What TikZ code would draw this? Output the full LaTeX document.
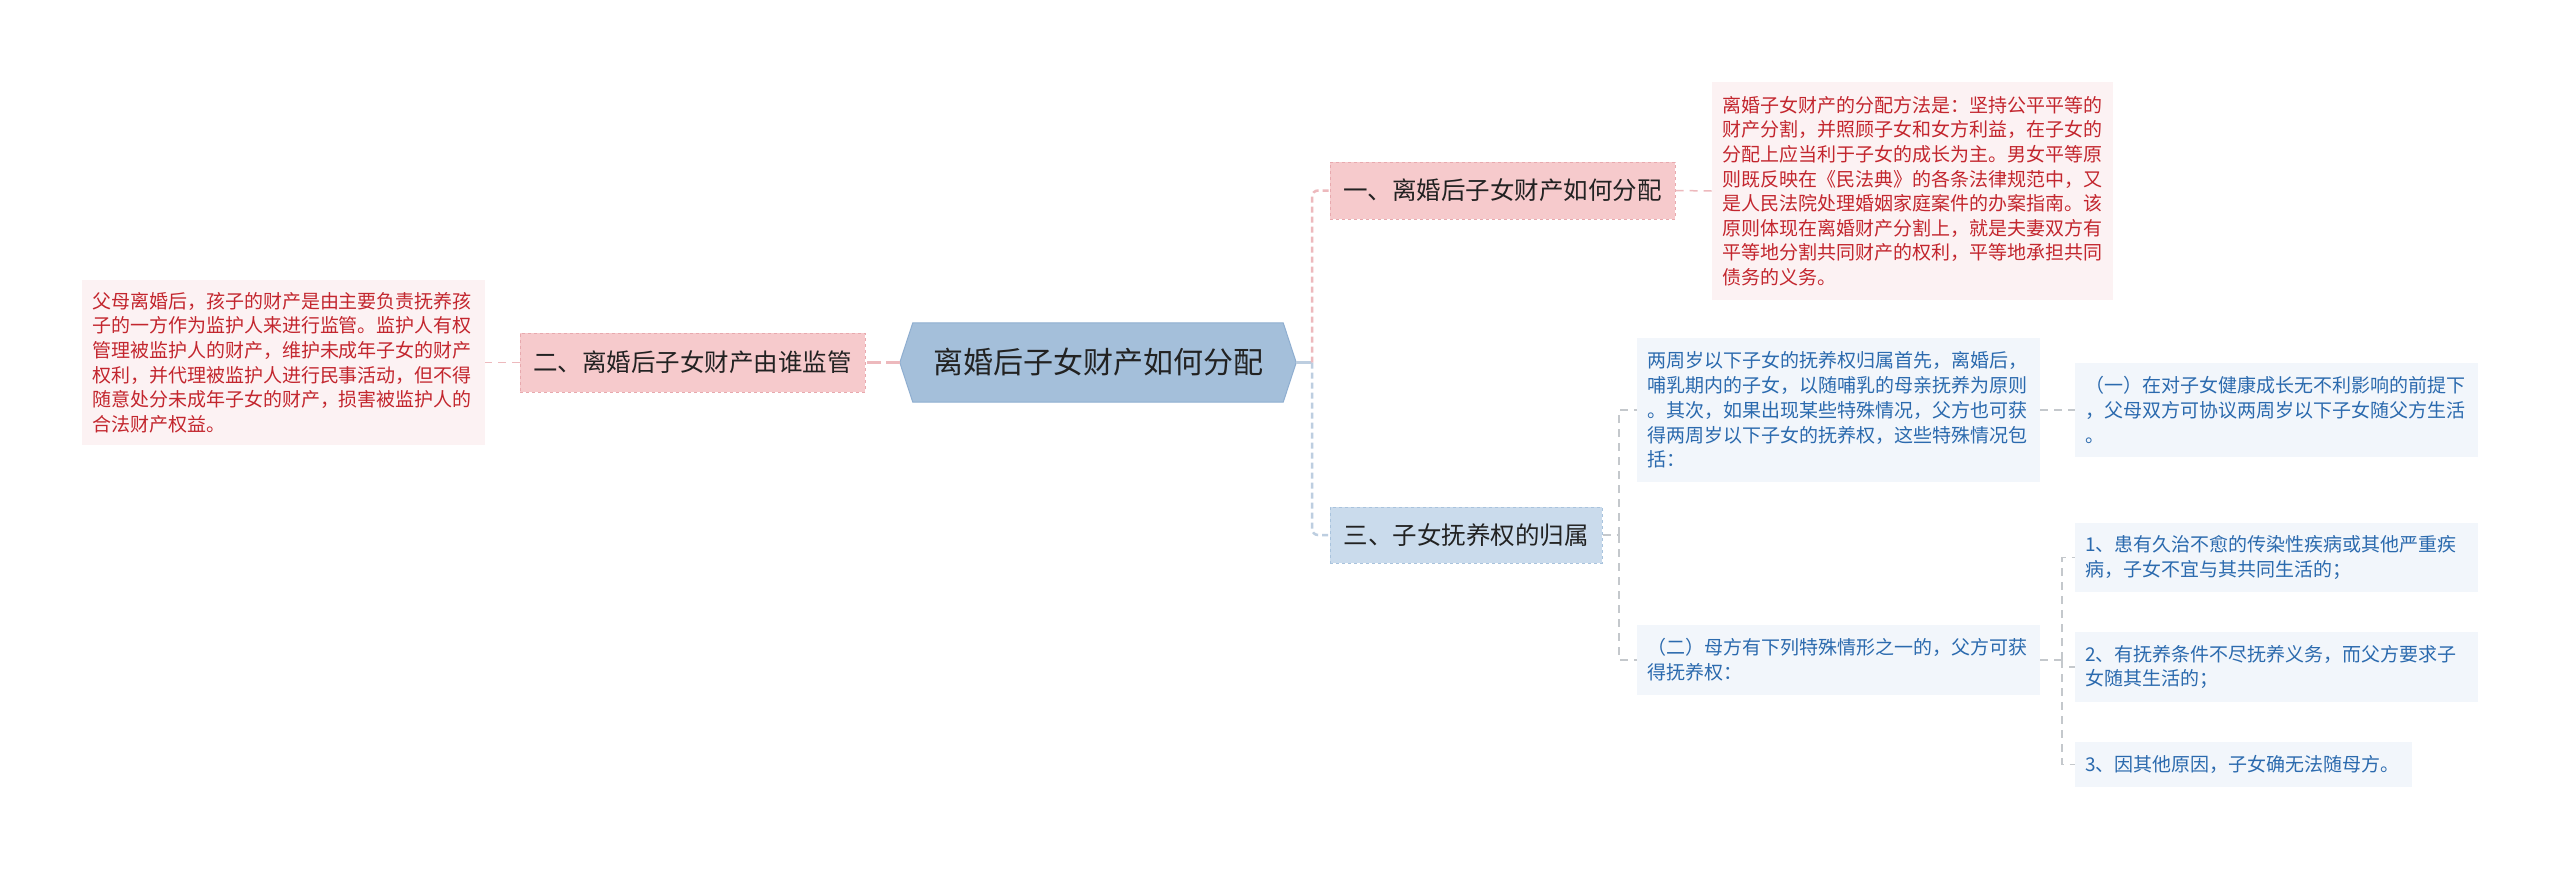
\documentclass[tikz,border=0pt]{standalone}
\usepackage{fontspec}
\setmainfont{Noto Sans CJK SC}
\usetikzlibrary{backgrounds}
\definecolor{rootfill}{HTML}{A4BFDA}
\definecolor{rootline}{HTML}{8FAED0}
\definecolor{brpink}{HTML}{F6CACC}
\definecolor{brpinkline}{HTML}{E8A9AE}
\definecolor{brblue}{HTML}{CADBEC}
\definecolor{brblueline}{HTML}{A9C3DD}
\definecolor{leafpink}{HTML}{FCF2F3}
\definecolor{leafred}{HTML}{C3262E}
\definecolor{leafblue}{HTML}{F2F6FB}
\definecolor{leafbluetext}{HTML}{2B6AAE}
\definecolor{conpink}{HTML}{EDB9BD}
\definecolor{conblue}{HTML}{BDCEE0}
\definecolor{congray}{HTML}{C4C8CC}
\definecolor{textdark}{HTML}{222222}
\tikzset{
  rootbox/.style={inner sep=0pt, minimum width=396pt, minimum height=79pt, text=textdark, font=\fontsize{30}{36}\selectfont},
  pinkbranch/.style={fill=brpink, draw=brpinkline, dashed, line width=1pt, inner sep=0pt, text=textdark, font=\fontsize{24.5}{30}\selectfont},
  bluebranch/.style={fill=brblue, draw=brblueline, dashed, line width=1pt, inner sep=0pt, text=textdark, font=\fontsize{24.5}{30}\selectfont},
  pinkleaf/.style={fill=leafpink, text=leafred, align=left, inner xsep=10pt, inner ysep=0pt, font=\fontsize{19}{24.6}\selectfont},
  blueleaf/.style={fill=leafblue, text=leafbluetext, align=left, inner xsep=10pt, inner ysep=0pt, font=\fontsize{19}{24.8}\selectfont},
  mainpink/.style={draw=conpink, line width=2.5pt, dash pattern=on 6pt off 4pt, rounded corners=6pt},
  mainblue/.style={draw=conblue, line width=2.5pt, dash pattern=on 6pt off 4pt, rounded corners=6pt},
  subpink/.style={draw=conpink, line width=1.5pt, dash pattern=on 8pt off 6pt},
  subgray/.style={draw=congray, line width=1.5pt, dash pattern=on 8pt off 6pt},
}
\begin{document}
\begin{tikzpicture}[x=1pt,y=-1pt]
\useasboundingbox (0,0) rectangle (2560,868);

% root
\node[rootbox] (root) at (1098,362.5) {离婚后子女财产如何分配};
\begin{scope}[on background layer]
\fill[white] (0,0) rectangle (2560,868);
\path[fill=rootfill, draw=rootline, line width=1pt]
  (root.west) -- ([xshift=13pt]root.north west) -- ([xshift=-13pt]root.north east)
  -- (root.east) -- ([xshift=-13pt]root.south east) -- ([xshift=13pt]root.south west) -- cycle;
\end{scope}

% branches
\node[pinkbranch, minimum width=345pt, minimum height=57pt] (b1) at (1502.5,190.5) {一、离婚后子女财产如何分配};
\node[pinkbranch, minimum width=345pt, minimum height=59pt] (b2) at (692.5,362.5) {二、离婚后子女财产由谁监管};
\node[bluebranch, minimum width=272pt, minimum height=56pt] (b3) at (1466,535) {三、子女抚养权的归属};

% leaves
\node[pinkleaf, text width=381pt, minimum height=218pt] (l1) at (1912.5,191) {离婚子女财产的分配方法是：坚持公平平等的\\财产分割，并照顾子女和女方利益，在子女的\\分配上应当利于子女的成长为主。男女平等原\\则既反映在《民法典》的各条法律规范中，又\\是人民法院处理婚姻家庭案件的办案指南。该\\原则体现在离婚财产分割上，就是夫妻双方有\\平等地分割共同财产的权利，平等地承担共同\\债务的义务。};
\node[pinkleaf, text width=383pt, minimum height=165pt] (l2) at (283.5,362.5) {父母离婚后，孩子的财产是由主要负责抚养孩\\子的一方作为监护人来进行监管。监护人有权\\管理被监护人的财产，维护未成年子女的财产\\权利，并代理被监护人进行民事活动，但不得\\随意处分未成年子女的财产，损害被监护人的\\合法财产权益。};
\node[blueleaf, text width=383pt, minimum height=144pt] (l3) at (1838.5,410) {两周岁以下子女的抚养权归属首先，离婚后，\\哺乳期内的子女，以随哺乳的母亲抚养为原则\\。其次，如果出现某些特殊情况，父方也可获\\得两周岁以下子女的抚养权，这些特殊情况包\\括：};
\node[blueleaf, text width=383pt, minimum height=94pt] (l4) at (2276.5,410) {（一）在对子女健康成长无不利影响的前提下\\，父母双方可协议两周岁以下子女随父方生活\\。};
\node[blueleaf, text width=383pt, minimum height=70pt] (l5) at (1838.5,660) {（二）母方有下列特殊情形之一的，父方可获\\得抚养权：};
\node[blueleaf, text width=383pt, minimum height=69pt] (l6) at (2276.5,557.5) {1、患有久治不愈的传染性疾病或其他严重疾\\病，子女不宜与其共同生活的；};
\node[blueleaf, text width=383pt, minimum height=70pt] (l7) at (2276.5,667) {2、有抚养条件不尽抚养义务，而父方要求子\\女随其生活的；};
\node[blueleaf, text width=317pt, minimum height=45pt] (l8) at (2243.5,764.5) {3、因其他原因，子女确无法随母方。};

% junction coordinates
\coordinate (j0) at (1312,362.5);
\coordinate (j3) at (1619,535);
\coordinate (j5) at (2062,660);

% connectors root
\draw[draw=conblue, line width=2.5pt] (root.east) -- (j0);
\draw[mainpink] (j0) -- (j0 |- b1.west) -- (b1.west);
\draw[mainblue] (j0) -- (j0 |- b3.west) -- (b3.west);
\draw[draw=conpink, line width=2.5pt, dash pattern=on 14pt off 5pt] (root.west) -- (b2.east);

% branch to leaves
\draw[subpink] (b1.east) -- (l1.west);
\draw[subpink] (b2.west) -- (l2.east);
\draw[subgray] (b3.east) -- (j3);
\draw[subgray] (j3) -- (j3 |- l3.west) -- (l3.west);
\draw[subgray] (j3) -- (j3 |- l5.west) -- (l5.west);
\draw[subgray] (l3.east) -- (l4.west);
\draw[subgray] (l5.east) -- (j5);
\draw[subgray] (j5) -- (j5 |- l6.west) -- (l6.west);
\draw[subgray] (j5) -- (j5 |- l7.west) -- (l7.west);
\draw[subgray] (j5) -- (j5 |- l8.west) -- (l8.west);
\end{tikzpicture}
\end{document}
